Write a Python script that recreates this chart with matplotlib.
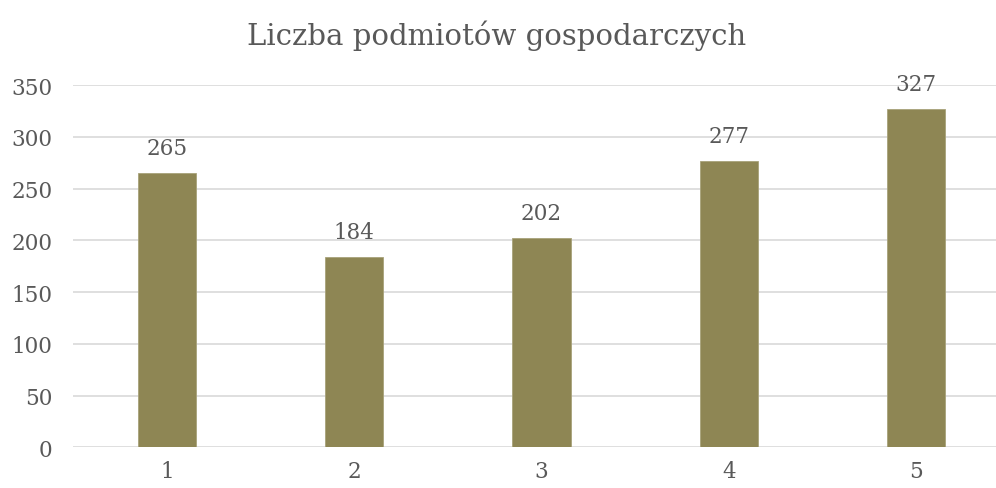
import matplotlib
matplotlib.use("Agg")
import matplotlib.pyplot as plt

categories = ["1", "2", "3", "4", "5"]
values = [265, 184, 202, 277, 327]
yticks = [0, 50, 100, 150, 200, 250, 300, 350]
title = "Liczba podmiotów gospodarczych"

W, H = 996, 489
fig = plt.figure(figsize=(W / 100, H / 100), dpi=100)
plt.rcParams["font.family"] = ["DejaVu Serif"]

# axes box in pixel coordinates (plot area runs past the right edge)
left, right, bottom, top = 73.4, 1009.6, 448.3, 86.0
ax = fig.add_axes([left / W, 1 - bottom / H, (right - left) / W, (bottom - top) / H])

text_color = "#595959"
x = range(len(categories))
ax.bar(x, values, width=0.31, color="#8E8654", edgecolor="#A8A27A", linewidth=0.6, zorder=3)
for xi, v in zip(x, values):
    ax.annotate(str(v), (xi, v), xytext=(0, 10), textcoords="offset points",
                ha="center", va="bottom", fontsize=15.5, color=text_color)

ax.set_xlim(-0.5, len(categories) - 0.5)
ax.set_ylim(0, 350)
ax.set_yticks(yticks)
ax.set_xticks(list(x))
ax.set_xticklabels(categories)
ax.tick_params(axis="both", length=0, labelsize=15.5, labelcolor=text_color)
ax.tick_params(axis="y", pad=15)
ax.tick_params(axis="x", pad=9)
ax.grid(axis="y", color="#D9D9D9", linewidth=1.2, zorder=0)
for s in ax.spines.values():
    s.set_visible(False)

fig.text(497 / W, 1 - 36 / H, title, ha="center", va="center", fontsize=21, color=text_color)

fig.savefig("out.png", dpi=100)
